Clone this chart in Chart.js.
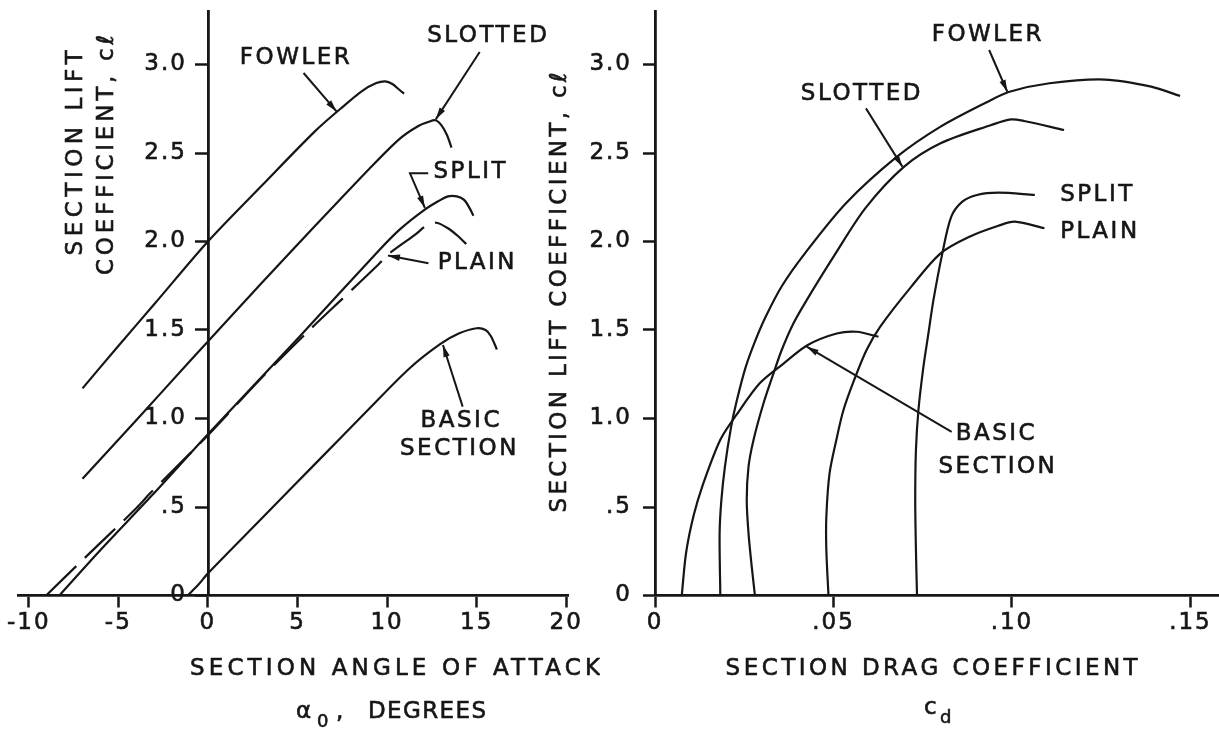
<!DOCTYPE html>
<html>
<head>
<meta charset="utf-8">
<script src="https://cdn.jsdelivr.net/npm/chart.js@4.4.1/dist/chart.umd.min.js"></script>
<style>
  html, body { margin: 0; padding: 0; background: #ffffff; width: 1219px; height: 729px; overflow: hidden; }
  #wrapL { position: absolute; left: 0; top: 0; width: 600px; height: 729px; }
  #wrapR { position: absolute; left: 540px; top: 0; width: 679px; height: 729px; }
  canvas { display: block; }
</style>
</head>
<body>
<div id="wrapL"><canvas id="cL" width="600" height="729" style="width:600px;height:729px"></canvas></div>
<div id="wrapR"><canvas id="cR" width="679" height="729" style="width:679px;height:729px"></canvas></div>
<script>
// ---------------- tick values and labels ----------------
const alphaTickValues = [-10, -5, 0, 5, 10, 15, 20];
const alphaTickLabels = ['-10', '-5', '0', '5', '10', '15', '20'];
const clTickValues = [0, 0.5, 1.0, 1.5, 2.0, 2.5, 3.0];
const clTickLabels = ['0', '.5', '1.0', '1.5', '2.0', '2.5', '3.0'];
const cdTickValues = [0, 0.05, 0.10, 0.15];
const cdTickLabels = ['0', '.05', '.10', '.15'];

// ---------------- left panel: cl vs angle of attack ----------------
const fowlerAlpha = [-7.0, -5.0, -3.0, 0, 3.0, 6.0, 7.4, 8.6, 9.4, 9.9, 10.3, 10.65, 10.95];
const fowlerCl    = [1.17, 1.41, 1.645, 2.0, 2.315, 2.625, 2.75, 2.85, 2.895, 2.905, 2.89, 2.86, 2.835];

const slottedAlpha = [-7.0, -4.0, -1.0, 0, 3.0, 6.0, 9.0, 10.7, 11.7, 12.3, 12.7, 13.05, 13.35, 13.6];
const slottedCl    = [0.66, 0.99, 1.325, 1.435, 1.765, 2.09, 2.41, 2.58, 2.65, 2.675, 2.685, 2.655, 2.6, 2.53];

const splitAlpha = [-8.29, -6.06, -3.08, 0, 5.11, 9.57, 10.73, 12.03, 12.9, 13.4, 13.9, 14.3, 14.6, 14.82];
const splitCl    = [0, 0.25, 0.57, 0.911, 1.462, 1.952, 2.07, 2.175, 2.23, 2.255, 2.255, 2.235, 2.19, 2.145];

const plainAlpha = [-9.03, -6.9, -4.0, -3.2, 0, 3.0, 5.67, 7.53, 9.49, 10.14, 11.55, 12.24, 12.75, 13.4, 14.0, 14.42];
const plainCl    = [0, 0.21, 0.493, 0.58, 0.905, 1.23, 1.5, 1.679, 1.867, 1.933, 2.037, 2.093, 2.106, 2.075, 2.027, 1.986];

const basicAlpha = [-1.13, -0.5, 0, 3.0, 6.0, 9.0, 11.26, 12.96, 14.0, 15.0, 15.5, 15.8, 16.13];
const basicCl    = [0, 0.065, 0.125, 0.435, 0.745, 1.055, 1.284, 1.42, 1.48, 1.51, 1.5, 1.465, 1.39];

// ---------------- right panel: cl vs drag coefficient ----------------
const fowlerCd  = [0.0183, 0.0181, 0.0186, 0.0196, 0.0213, 0.0229, 0.0254, 0.0281, 0.0310, 0.0356, 0.042, 0.0535, 0.0678, 0.08, 0.0932, 0.0993, 0.1105, 0.126, 0.139, 0.1471];
const fowlerClR = [0, 0.351, 0.54, 0.73, 0.95, 1.1, 1.29, 1.44, 1.575, 1.75, 1.933, 2.216, 2.479, 2.649, 2.79, 2.846, 2.894, 2.915, 2.875, 2.822];

const slottedCd  = [0.028, 0.0271, 0.0262, 0.0257, 0.0262, 0.0276, 0.0304, 0.0332, 0.0355, 0.0388, 0.0425, 0.0502, 0.059, 0.0698, 0.08, 0.0942, 0.0997, 0.1034, 0.1146];
const slottedClR = [0, 0.163, 0.351, 0.54, 0.728, 0.879, 1.086, 1.255, 1.387, 1.538, 1.669, 1.92, 2.19, 2.423, 2.555, 2.658, 2.69, 2.681, 2.63];

const splitCd  = [0.0734, 0.0731, 0.0729, 0.0731, 0.0738, 0.0752, 0.0766, 0.078, 0.0805, 0.083, 0.0861, 0.0902, 0.0962, 0.1064];
const splitClR = [0, 0.257, 0.54, 0.822, 1.048, 1.293, 1.481, 1.669, 1.933, 2.14, 2.225, 2.263, 2.276, 2.263];

const plainCd  = [0.0486, 0.048, 0.048, 0.0489, 0.0508, 0.0528, 0.0558, 0.0593, 0.0631, 0.0718, 0.08, 0.0881, 0.0962, 0.1008, 0.1091];
const plainClR = [0, 0.257, 0.445, 0.69, 0.879, 1.048, 1.218, 1.388, 1.519, 1.745, 1.933, 2.027, 2.089, 2.112, 2.075];

const basicCd  = [0.0075, 0.0087, 0.0108, 0.0133, 0.0183, 0.0228, 0.0294, 0.036, 0.0428, 0.0509, 0.0565, 0.0626];
const basicClR = [0, 0.24, 0.45, 0.62, 0.88, 1.02, 1.2, 1.31, 1.415, 1.48, 1.49, 1.462];

// ---------------- styling ----------------
const INK = '#161616';
const FONT_FAMILY = '"DejaVu Sans", "Liberation Sans", sans-serif';
const fontPx = s => `${s}px ${FONT_FAMILY}`;
const TEXT_STROKE = 0.6;

function pts(xs, ys) { return xs.map((v, i) => ({ x: v, y: ys[i] })); }
function lineDs(label, xs, ys, dash) {
  return {
    label, data: pts(xs, ys), showLine: true, fill: false, yAxisID: 'y',
    borderColor: INK, backgroundColor: INK, borderWidth: 2.2, pointRadius: 0, pointHoverRadius: 0,
    tension: 0.3, borderDash: dash || [], borderCapStyle: 'butt', borderJoinStyle: 'round'
  };
}
const tickFont = { family: FONT_FAMILY, size: 23 };
function xAxis(min, max, values, labels) {
  return {
    type: 'linear', position: 'bottom', min, max,
    afterBuildTicks: s => { s.ticks = values.map(v => ({ value: v })); },
    afterFit: s => { s.height = 40; },
    grid: { drawOnChartArea: false, drawTicks: true, tickLength: 12, tickWidth: 2.5, tickColor: INK },
    border: { display: true, color: INK, width: 2.8 },
    ticks: { color: INK, font: tickFont, padding: 2, maxRotation: 0, minRotation: 0,
             textStrokeColor: INK, textStrokeWidth: TEXT_STROKE,
             autoSkip: false, callback: (v, i) => labels[i] }
  };
}
function yAxis(position, width, showLabels, showLine) {
  return {
    type: 'linear', position, min: 0, max: 3.3,
    afterBuildTicks: s => { s.ticks = clTickValues.map(v => ({ value: v })); },
    afterFit: s => { s.width = width; s.paddingTop = 0; s.paddingBottom = 0; },
    grid: { display: showLine, drawOnChartArea: false, drawTicks: true, tickLength: 12, tickWidth: 2.5, tickColor: INK },
    border: { display: showLine, color: INK, width: 2.8 },
    ticks: { display: showLabels, color: INK, font: tickFont, padding: 11, autoSkip: false,
             textStrokeColor: INK, textStrokeWidth: TEXT_STROKE,
             callback: (v, i) => clTickLabels[i] }
  };
}

// ---------------- drawing helpers for labels / leaders ----------------
function drawArrow(ctx, p) {
  ctx.beginPath();
  ctx.moveTo(p[0][0], p[0][1]);
  for (let i = 1; i < p.length; i++) ctx.lineTo(p[i][0], p[i][1]);
  ctx.lineWidth = 2; ctx.stroke();
  const [x2, y2] = p[p.length - 1], [x1, y1] = p[p.length - 2];
  const a = Math.atan2(y2 - y1, x2 - x1), L = 12, W = 3.2;
  ctx.beginPath();
  ctx.moveTo(x2, y2);
  ctx.lineTo(x2 - L * Math.cos(a) + W * Math.sin(a), y2 - L * Math.sin(a) - W * Math.cos(a));
  ctx.lineTo(x2 - L * Math.cos(a) - W * Math.sin(a), y2 - L * Math.sin(a) + W * Math.cos(a));
  ctx.closePath(); ctx.fill();
}
function txt(ctx, s, x, y) {
  ctx.fillText(s, x, y);
  ctx.lineWidth = TEXT_STROKE;
  ctx.strokeText(s, x, y);
}
// draw text stretched (via letter spacing) to a target width
function spaced(ctx, text, x, y, width, align) {
  ctx.letterSpacing = '0px';
  const w0 = ctx.measureText(text).width;
  const n = [...text].length;
  const ls = n > 1 ? Math.max(0, (width - w0) / (n - 1)) : 0;
  ctx.letterSpacing = ls + 'px';
  ctx.textAlign = align || 'center';
  txt(ctx, text, (align === 'left') ? x : x + ls / 2, y);
  ctx.letterSpacing = '2.5px';
}

function notesPlugin(notes, titles) {
  return {
    id: 'notes',
    beforeDraw(chart) { chart.ctx.letterSpacing = '2px'; },
    afterDraw(chart) {
      const ctx = chart.ctx, xs = chart.scales.x, ys = chart.scales.y;
      const px = p => [xs.getPixelForValue(p[0]), ys.getPixelForValue(p[1])];
      ctx.save();
      ctx.fillStyle = INK; ctx.strokeStyle = INK;
      ctx.font = fontPx(23);
      ctx.letterSpacing = '2.5px';
      ctx.textBaseline = 'middle';
      notes.forEach(n => {
        if (n.text) {
          const [x, y] = px(n.at);
          ctx.textAlign = n.align || 'center';
          txt(ctx, n.text, n.align === 'left' ? x : x + 1.25, y);
        }
        if (n.arrow) drawArrow(ctx, n.arrow.map(px));
      });
      titles(ctx, chart);
      ctx.restore();
    }
  };
}

// annotation positions (data coordinates)
const leftNotes = [
  { text: 'FOWLER', at: [4.85, 3.035], arrow: [[5.34, 2.952], [7.18, 2.735]] },
  { text: 'SLOTTED', at: [15.58, 3.162], arrow: [[15.17, 3.071], [12.72, 2.69]] },
  { text: 'SPLIT', at: [14.6, 2.39], arrow: [[12.3, 2.385], [11.28, 2.385], [12.11, 2.19]] },
  { text: 'PLAIN', at: [14.97, 1.877], arrow: [[12.31, 1.877], [10.05, 1.921]] },
  { text: 'BASIC', at: [14.07, 0.985] },
  { text: 'SECTION', at: [13.97, 0.83], arrow: [[14.22, 1.067], [13.12, 1.415]] }
];
const rightNotes = [
  { text: 'FOWLER', at: [0.0929, 3.167], arrow: [[0.0936, 3.082], [0.0987, 2.846]] },
  { text: 'SLOTTED', at: [0.0576, 2.832], arrow: [[0.0591, 2.752], [0.0693, 2.423]] },
  { text: 'SPLIT', at: [0.1135, 2.261], align: 'left' },
  { text: 'PLAIN', at: [0.1135, 2.055], align: 'left' },
  { text: 'BASIC', at: [0.0953, 0.912] },
  { text: 'SECTION', at: [0.0957, 0.728], arrow: [[0.0831, 0.925], [0.0425, 1.406]] }
];

function leftTitles(ctx) {
  ctx.font = fontPx(23);
  ctx.textBaseline = 'alphabetic';
  spaced(ctx, 'SECTION ANGLE OF ATTACK', 395, 675, 410);
  ctx.letterSpacing = '0px';
  ctx.textAlign = 'left';
  txt(ctx, '\u03B1', 296, 718);
  ctx.font = fontPx(18);
  txt(ctx, '0', 317, 727);
  ctx.font = fontPx(23);
  txt(ctx, ',', 336, 718);
  spaced(ctx, 'DEGREES', 368, 718, 118, 'left');
  ctx.textBaseline = 'middle';
  ctx.save(); ctx.translate(76.5, 153); ctx.rotate(-Math.PI / 2);
  spaced(ctx, 'SECTION LIFT', 0, 0, 205); ctx.restore();
  ctx.save(); ctx.translate(107, 155); ctx.rotate(-Math.PI / 2);
  spaced(ctx, 'COEFFICIENT, c\u2113', 0, 0, 240); ctx.restore();
}
function rightTitles(ctx) {
  ctx.font = fontPx(23);
  ctx.textBaseline = 'alphabetic';
  spaced(ctx, 'SECTION DRAG COEFFICIENT', 391.6, 675, 412);
  ctx.letterSpacing = '0px';
  ctx.textAlign = 'left';
  txt(ctx, 'c', 384, 714);
  ctx.font = fontPx(18);
  txt(ctx, 'd', 400, 723);
  ctx.font = fontPx(23);
  ctx.textBaseline = 'middle';
  ctx.save(); ctx.translate(20, 292.5); ctx.rotate(-Math.PI / 2);
  spaced(ctx, 'SECTION LIFT COEFFICIENT, c\u2113', 0, 0, 440); ctx.restore();
}

const common = {
  responsive: false, animation: false, events: [],
  plugins: { legend: { display: false }, tooltip: { enabled: false }, title: { display: false } }
};

new Chart(document.getElementById('cL'), {
  type: 'scatter',
  data: {
    datasets: [
      lineDs('Fowler', fowlerAlpha, fowlerCl),
      lineDs('Slotted', slottedAlpha, slottedCl),
      lineDs('Split', splitAlpha, splitCl),
      lineDs('Plain', plainAlpha, plainCl, [42, 12]),
      lineDs('Basic section', basicAlpha, basicCl)
    ]
  },
  options: Object.assign({}, common, {
    layout: { padding: { left: 18, right: 32, top: 11.4, bottom: 93.5 } },
    scales: {
      x: xAxis(-10.6, 20.1, alphaTickValues, alphaTickLabels),
      // axis line and tick marks at alpha = 0
      y: yAxis({ x: 0 }, 0, false, true),
      // tick labels set just left of the tick marks
      yLabels: yAxis({ x: -1.17 }, 0, true, false)
    }
  }),
  plugins: [notesPlugin(leftNotes, leftTitles)]
});

new Chart(document.getElementById('cR'), {
  type: 'scatter',
  data: {
    datasets: [
      lineDs('Fowler', fowlerCd, fowlerClR),
      lineDs('Slotted', slottedCd, slottedClR),
      lineDs('Split', splitCd, splitClR),
      lineDs('Plain', plainCd, plainClR),
      lineDs('Basic section', basicCd, basicClR)
    ]
  },
  options: Object.assign({}, common, {
    layout: { padding: { left: 0, right: 0, top: 11.4, bottom: 93.5 } },
    scales: { x: xAxis(0, 0.158, cdTickValues, cdTickLabels), y: yAxis('left', 115, true, true) }
  }),
  plugins: [notesPlugin(rightNotes, rightTitles)]
});
</script>
</body>
</html>
